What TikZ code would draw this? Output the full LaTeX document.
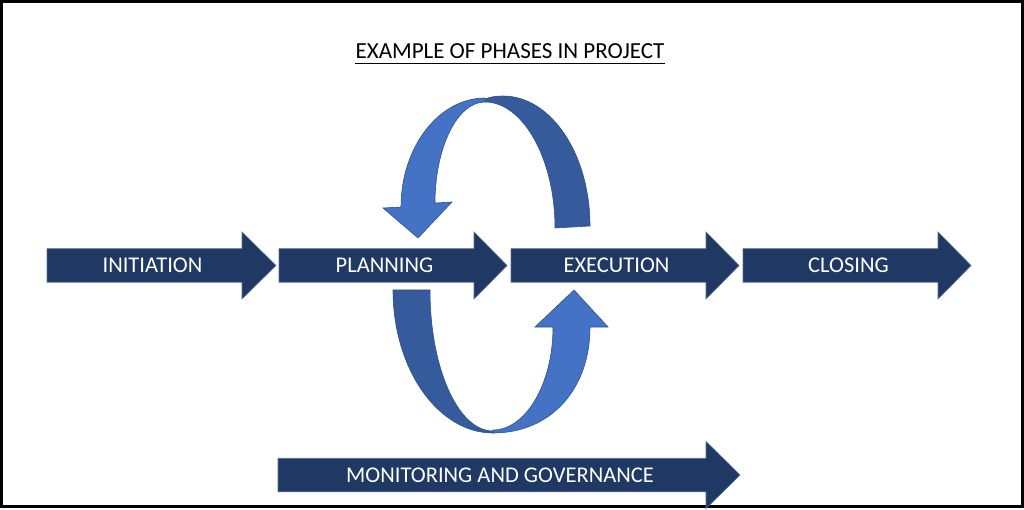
\documentclass[tikz,border=0pt]{standalone}
\usepackage{fontspec}
\setmainfont{Carlito}
\definecolor{navy}{RGB}{31,56,100}
\definecolor{navyedge}{RGB}{80,110,160}
\definecolor{lightblue}{RGB}{68,114,196}
\definecolor{midblue}{RGB}{53,91,156}
\definecolor{edgeblue}{RGB}{47,82,143}
\newcommand{\phasearrow}[6]{%
  \filldraw[phase] (#2,#5-16.75) -- (#3,#5-16.75) -- (#3,#5-33.5) -- (#4,#5)
    -- (#3,#5+33.5) -- (#3,#5+16.75) -- (#2,#5+16.75) -- cycle;
  \node[lbl] (#1) at ({(#2+#3)/2+8},#5+7.2) {#6};%
}
\begin{document}
\begin{tikzpicture}[x=1pt,y=-1pt,
  phase/.style={fill=navy,draw=navyedge,line width=0.6pt},
  lbl/.style={text=white,font=\fontsize{22.5}{26}\selectfont,inner sep=0pt,anchor=base},
  backpart/.style={fill=midblue,draw=edgeblue,line width=0.6pt},
  frontpart/.style={fill=lightblue,draw=edgeblue,line width=0.6pt}]
\useasboundingbox (0,0) rectangle (1024,510);
\draw[line width=3pt] (1.5,1.5) rectangle (1022.5,506.5);

% title
\node[inner sep=0pt,anchor=base,font=\fontsize{23}{27}\selectfont] (title) at (510,59) {EXAMPLE OF PHASES IN PROJECT};
\draw[line width=1.2pt] ([yshift=-4.5pt]title.base west) -- ([yshift=-4.5pt]title.base east);

% top curved arrow
\filldraw[backpart] (555,228) -- (590,226) .. controls (590,154) and (551,96) .. (503,96)
  .. controls (496,96) and (490,97) .. (485,99) -- (485,102)
  .. controls (523,102) and (555,159) .. (555,228) -- cycle;
\filldraw[frontpart] (485,98) .. controls (439,98) and (401,147) .. (401,207)
  -- (383,208) -- (418,238) -- (452,202) -- (435,203)
  .. controls (435,148) and (457,102) .. (485,102) -- cycle;

% bottom curved arrow
\filldraw[backpart] (393,290) -- (430,290) .. controls (430,368) and (458,431) .. (493,431)
  -- (493,433) .. controls (438,433) and (393,369) .. (393,290) -- cycle;
\filldraw[frontpart] (493,433) .. controls (550,433) and (590,390) .. (590,327)
  -- (608,327) -- (574,290) -- (535,327) -- (553,327)
  .. controls (553,385) and (525,430) .. (493,430) -- cycle;

% phase arrows
\phasearrow{init}{47}{242}{276}{265.5}{INITIATION}
\phasearrow{plan}{279}{474}{507}{265.5}{PLANNING}
\phasearrow{exec}{511}{706}{739}{265.5}{EXECUTION}
\phasearrow{close}{743}{938}{971}{265.5}{CLOSING}
\phasearrow{monitor}{278}{706}{740}{475}{MONITORING AND GOVERNANCE}
\end{tikzpicture}
\end{document}
